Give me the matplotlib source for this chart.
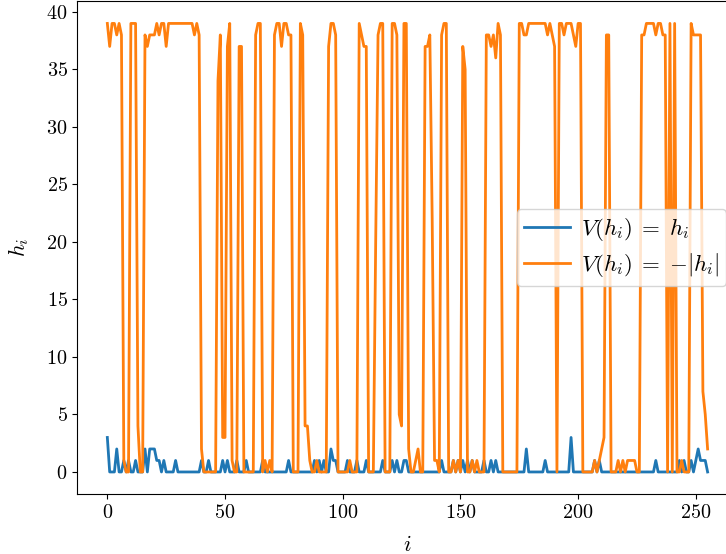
import numpy as np
import matplotlib
matplotlib.use("Agg")
import matplotlib.pyplot as plt

# h_i for V(h_i) = h_i
h_linear = [
    3, 0, 0, 0, 2, 0, 0, 1, 0, 1,
    0, 0, 1, 0, 0, 0, 2, 0, 2, 2,
    2, 1, 1, 0, 1, 0, 0, 0, 0, 1,
    0, 0, 0, 0, 0, 0, 0, 0, 0, 0,
    1, 0, 0, 1, 0, 0, 0, 0, 0, 1,
    0, 1, 0, 0, 0, 1, 0, 0, 0, 1,
    0, 0, 0, 0, 0, 0, 1, 0, 0, 0,
    0, 0, 0, 0, 0, 0, 0, 1, 0, 0,
    0, 0, 0, 0, 0, 0, 0, 0, 1, 0,
    1, 0, 1, 0, 0, 2, 1, 1, 0, 0,
    0, 0, 1, 0, 0, 0, 1, 0, 0, 0,
    1, 0, 0, 0, 0, 0, 0, 1, 0, 0,
    0, 1, 0, 1, 0, 0, 1, 1, 0, 0,
    0, 0, 0, 0, 0, 0, 0, 0, 0, 0,
    0, 0, 1, 0, 0, 0, 0, 1, 0, 1,
    0, 1, 0, 1, 0, 1, 0, 0, 0, 0,
    1, 0, 0, 1, 0, 1, 0, 0, 0, 0,
    0, 0, 0, 0, 0, 0, 0, 0, 2, 0,
    0, 0, 0, 0, 0, 0, 1, 0, 0, 0,
    0, 0, 0, 0, 0, 0, 0, 3, 0, 0,
    0, 0, 0, 0, 0, 0, 0, 1, 0, 1,
    0, 0, 0, 0, 0, 0, 0, 0, 0, 0,
    0, 0, 0, 0, 0, 0, 0, 0, 0, 0,
    0, 0, 0, 1, 0, 0, 0, 0, 0, 0,
    0, 0, 0, 1, 0, 1, 0, 0, 1, 0,
    1, 2, 1, 1, 1, 0,
]

# h_i for V(h_i) = -|h_i|
h_abs = [
    39, 37, 39, 39, 38, 39, 38, 1, 0, 0,
    39, 39, 39, 4, 0, 0, 38, 37, 38, 38,
    38, 39, 38, 39, 39, 37, 39, 39, 39, 39,
    39, 39, 39, 39, 39, 39, 39, 38, 39, 38,
    2, 0, 0, 0, 0, 0, 0, 34, 38, 3,
    3, 37, 39, 1, 0, 0, 37, 37, 0, 0,
    0, 0, 0, 38, 39, 39, 0, 1, 0, 1,
    0, 38, 39, 39, 37, 39, 39, 38, 38, 0,
    0, 0, 39, 38, 4, 4, 1, 0, 0, 1,
    0, 0, 0, 0, 37, 39, 39, 38, 0, 0,
    0, 0, 0, 1, 0, 0, 0, 39, 38, 37,
    37, 0, 0, 0, 20, 38, 39, 39, 0, 0,
    0, 39, 39, 38, 5, 4, 39, 39, 2, 0,
    0, 1, 2, 0, 0, 37, 37, 38, 22, 1,
    1, 0, 38, 39, 39, 0, 0, 1, 0, 1,
    0, 37, 35, 0, 0, 1, 0, 1, 0, 0,
    0, 38, 38, 37, 38, 36, 39, 38, 0, 0,
    0, 0, 0, 0, 0, 39, 39, 38, 38, 39,
    39, 39, 39, 39, 39, 39, 39, 38, 39, 38,
    37, 0, 39, 39, 38, 39, 39, 39, 38, 37,
    39, 39, 0, 0, 0, 0, 0, 1, 0, 1,
    2, 3, 38, 38, 0, 0, 0, 1, 0, 1,
    0, 1, 1, 1, 1, 0, 0, 38, 38, 39,
    39, 39, 39, 38, 39, 39, 38, 38, 0, 39,
    0, 39, 0, 0, 1, 0, 0, 0, 39, 38,
    38, 38, 38, 7, 5, 2,
]

labels = [r"$V(h_i) \;=\; h_i$", r"$V(h_i) \;=\; {-}|h_i|$"]

plt.rcParams["font.family"] = "serif"
plt.rcParams["font.serif"] = ["cmr10"]
plt.rcParams["mathtext.fontset"] = "cm"
plt.rcParams["axes.formatter.use_mathtext"] = True
plt.rcParams["font.size"] = 14.5

fig = plt.figure(figsize=(7.26, 5.54), dpi=100)
# axes runs past the right edge of the picture, like the reference crop
ax = fig.add_axes([0.1065, 0.1076, 0.9095, 0.8906])

i = np.arange(len(h_linear))
ax.plot(i, h_linear, lw=2.0, label=labels[0])
ax.plot(i, h_abs, lw=2.0, label=labels[1])

ax.set_xlabel(r"$i$", fontsize=16, labelpad=9)
ax.set_ylabel(r"$h_i$", fontsize=16, labelpad=11)
ax.legend(loc="center right", fontsize=16.5, labelspacing=0.35,
          borderpad=0.3, handlelength=2.0, handletextpad=0.5)

fig.savefig("out.png", dpi=100)
